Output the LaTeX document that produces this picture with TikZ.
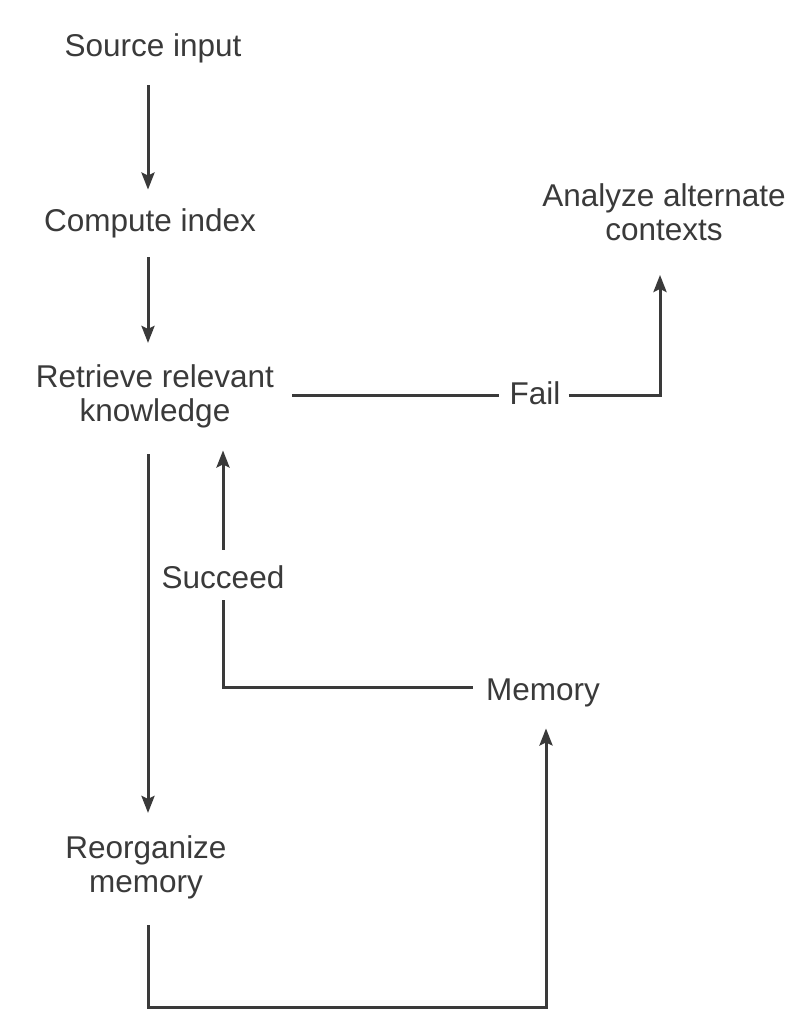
\documentclass[tikz,border=0pt]{standalone}
\usepackage{fontspec}
\setmainfont{Liberation Sans}
\usetikzlibrary{arrows.meta}
\definecolor{ink}{HTML}{3A3A3A}
\begin{document}
\begin{tikzpicture}[x=0.5pt,y=-0.5pt,
  label1/.style={inner sep=0pt,text=ink,font=\fontsize{15.75}{17}\selectfont,
     text height=11.5pt,text depth=3.3pt,anchor=base},
  label2/.style={inner sep=0pt,text=ink,font=\fontsize{15.75}{17}\selectfont,align=center},
  wire/.style={draw=ink,line width=1.5pt},
  arr/.style={wire,-{Stealth[length=8.5pt,width=6.5pt,inset=1.5pt]}}]
\fill[white] (0,0) rectangle (795,1036);
\useasboundingbox (0,0) rectangle (795,1036);
\coordinate (spine) at (148,0);
\coordinate (bottom) at (0,1007);
\coordinate (failx) at (660,0);

\node[label1] (source) at (153,57) {Source input};
\node[label1] (compute) at (150,232) {Compute index};
\node[label2] (retrieve) at (155,396) {Retrieve relevant\\knowledge};
\node[label2] (analyze) at (664,212) {Analyze alternate\\contexts};
\node[label1,anchor=center] (fail) at (535,396) {Fail};
\node[label1] (succeed) at (223,588) {Succeed};
\node[label1] (memory) at (543,700) {Memory};
\node[label2] (reorg) at (146,867) {Reorganize\\memory};

\draw[arr,shorten <=10.7pt,shorten >=9.5pt] (source.south -| spine) -- (compute.north -| spine);
\draw[arr,shorten <=9.2pt,shorten >=10.5pt] (compute.south -| spine) -- (retrieve.north -| spine);
\draw[arr,shorten <=13.2pt,shorten >=11pt] (retrieve.south -| spine) -- (reorg.north -| spine);
\draw[wire,shorten <=9pt,shorten >=5pt] (retrieve.east) -- (fail.west);
\draw[arr,shorten <=4pt,shorten >=17pt] (fail.east) -| (failx |- analyze.south);
\draw[arr,shorten <=13.2pt,shorten >=10.7pt] (reorg.south -| spine) -- (spine |- bottom) -| ([xshift=1.5pt]memory.south);
\draw[wire,shorten <=6.5pt,shorten >=2.7pt] ([yshift=2pt]memory.west) -| (succeed.south);
\draw[arr,shorten <=7.5pt,shorten >=11.2pt] (succeed.north) -- (succeed.north |- retrieve.south);
\end{tikzpicture}
\end{document}
